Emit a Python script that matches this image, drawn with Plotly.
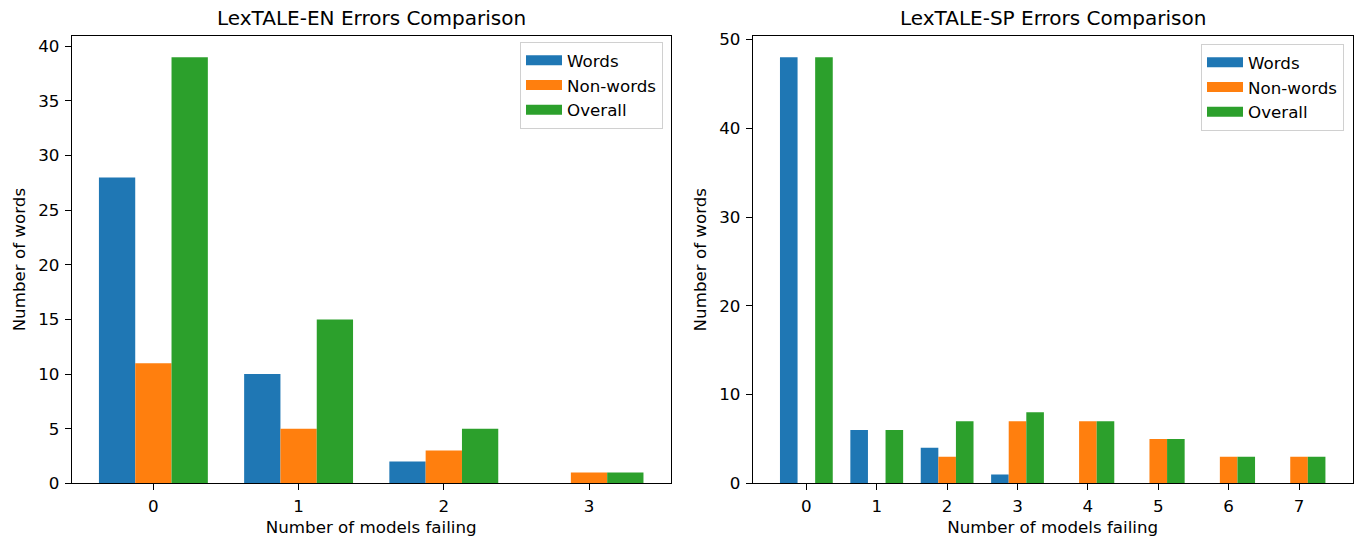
import plotly.graph_objects as go

# ---- data ----
en_x = [0, 1, 2, 3]
en_words = [28, 10, 2, 0]
en_nonwords = [11, 5, 3, 1]
en_overall = [39, 15, 5, 1]

sp_x = [0, 1, 2, 3, 4, 5, 6, 7]
sp_words = [48, 6, 4, 1, 0, 0, 0, 0]
sp_nonwords = [0, 0, 3, 7, 7, 5, 3, 3]
sp_overall = [48, 6, 7, 8, 7, 5, 3, 3]

en_yticks = [0, 5, 10, 15, 20, 25, 30, 35, 40]
sp_yticks = [0, 10, 20, 30, 40, 50]

series_names = ["Words", "Non-words", "Overall"]
colors = ["#1f77b4", "#ff7f0e", "#2ca02c"]

W, H = 1357, 537
FONT = "DejaVu Sans"
FS = 16.7      # 10pt @ 120dpi
FS_T = 20      # 12pt @ 120dpi

fig = go.Figure()
panels = [
    ("x", "y", "legend", en_x, [en_words, en_nonwords, en_overall]),
    ("x2", "y2", "legend2", sp_x, [sp_words, sp_nonwords, sp_overall]),
]
for xa, ya, lg, xs, series in panels:
    for name, col, vals in zip(series_names, colors, series):
        fig.add_trace(go.Bar(x=xs, y=vals, name=name, marker_color=col, marker_line_width=0,
                             xaxis=xa, yaxis=ya, offsetgroup=name, showlegend=False,
                             legendgroup=lg + name))
    # legend handles drawn as wide patches (legend-only entries)
    for name, col in zip(series_names, colors):
        fig.add_trace(go.Scatter(x=[None], y=[None], mode="lines", name=name,
                                 line=dict(color=col, width=12), xaxis=xa, yaxis=ya,
                                 legend=lg, legendgroup=lg + name, hoverinfo="skip"))

ydom = [1 - 483.3 / H, 1 - 36 / H]
xd1 = [71.7 / W, 670.7 / W]
xd2 = [752.7 / W, 1352.7 / W]

axis_common = dict(showline=True, linecolor="black", linewidth=1, mirror=True,
                   ticks="outside", ticklen=6, tickcolor="black", showgrid=False,
                   zeroline=False, automargin=False, ticklabelstandoff=2,
                   tickfont=dict(family=FONT, size=FS, color="black"))
title_font = dict(family=FONT, size=FS, color="black")

legend_common = dict(bordercolor="#d0d0d0", borderwidth=1, bgcolor="rgba(255,255,255,0.8)",
                     font=dict(family=FONT, size=FS), itemwidth=36, tracegroupgap=0,
                     itemclick=False, itemdoubleclick=False)

fig.update_layout(
    width=W, height=H,
    margin=dict(l=0, r=0, t=0, b=0, autoexpand=False),
    paper_bgcolor="white", plot_bgcolor="white",
    font=dict(family=FONT, size=FS, color="black"),
    barmode="group", bargap=0.25, bargroupgap=0,
    xaxis=dict(domain=xd1, anchor="y", range=[-0.5625, 3.5625], tickvals=en_x,
               title=dict(text="Number of models failing", standoff=6, font=title_font),
               **axis_common),
    yaxis=dict(domain=ydom, anchor="x", range=[0, 40.95], tickvals=en_yticks,
               title=dict(text="Number of words", standoff=8, font=title_font),
               **axis_common),
    xaxis2=dict(domain=xd2, anchor="y2", range=[-0.7625, 7.7625], tickvals=sp_x,
                title=dict(text="Number of models failing", standoff=6, font=title_font),
                **axis_common),
    yaxis2=dict(domain=ydom, anchor="x2", range=[0, 50.4], tickvals=sp_yticks,
                title=dict(text="Number of words", standoff=8, font=title_font),
                **axis_common),
    legend=dict(x=663 / W, xanchor="right", y=1 - 42 / H, yanchor="top", **legend_common),
    legend2=dict(x=1344 / W, xanchor="right", y=1 - 44 / H, yanchor="top", **legend_common),
    annotations=[
        dict(text="LexTALE-EN Errors Comparison", x=(xd1[0] + xd1[1]) / 2, y=1 - 18 / H,
             xref="paper", yref="paper", xanchor="center", yanchor="middle",
             showarrow=False, font=dict(family=FONT, size=FS_T)),
        dict(text="LexTALE-SP Errors Comparison", x=(xd2[0] + xd2[1]) / 2, y=1 - 18 / H,
             xref="paper", yref="paper", xanchor="center", yanchor="middle",
             showarrow=False, font=dict(family=FONT, size=FS_T)),
    ],
)

fig.write_html("out.html", config={"displayModeBar": False},
               post_script="document.body.style.margin='0px';")
